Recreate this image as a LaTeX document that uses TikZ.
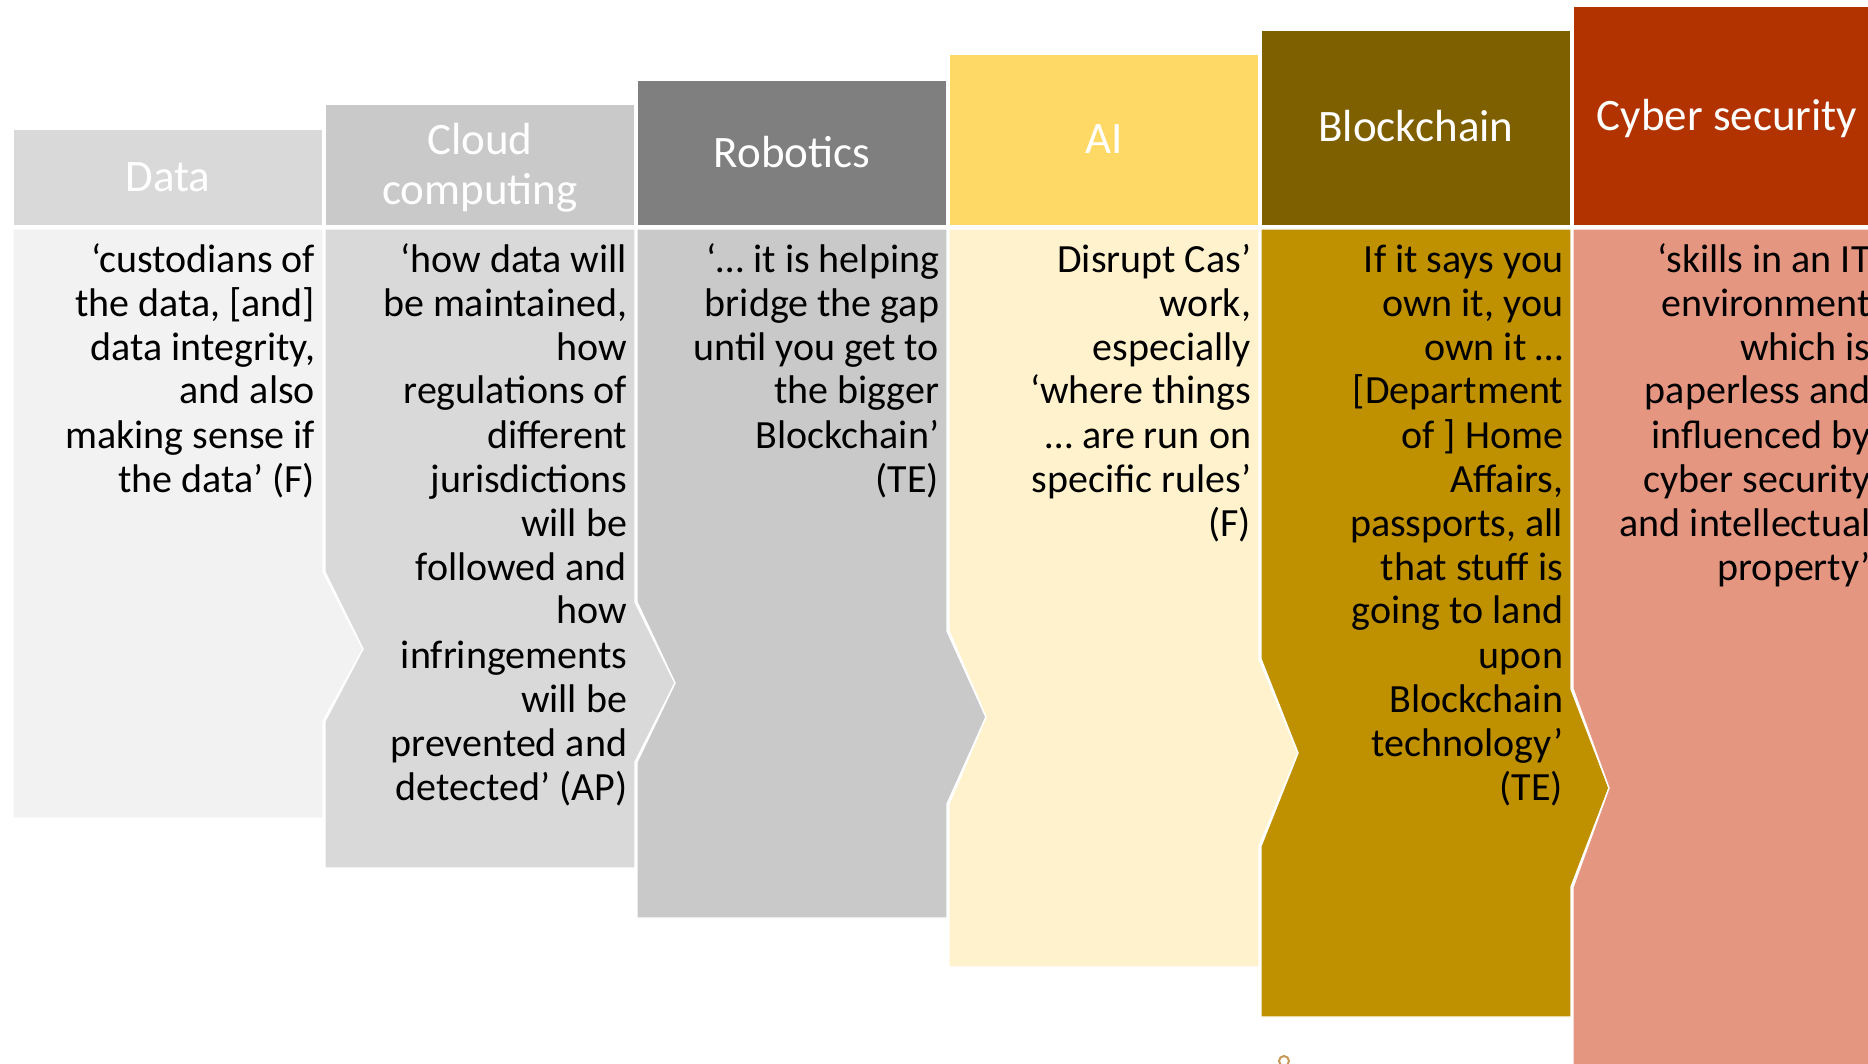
\documentclass[tikz,border=0pt]{standalone}
\usepackage{fontspec}
\setmainfont{Carlito}
\definecolor{dataH}{HTML}{D9D9D9}
\definecolor{dataB}{HTML}{F2F2F2}
\definecolor{cloudH}{HTML}{C9C9C9}
\definecolor{cloudB}{HTML}{D9D9D9}
\definecolor{robH}{HTML}{7F7F7F}
\definecolor{robB}{HTML}{C9C9C9}
\definecolor{aiH}{HTML}{FFD966}
\definecolor{aiB}{HTML}{FFF2CC}
\definecolor{bcH}{HTML}{7F6000}
\definecolor{bcB}{HTML}{BF9000}
\definecolor{cyH}{HTML}{B23300}
\definecolor{cyB}{HTML}{E59681}
\definecolor{dotc}{HTML}{C89A5A}
\tikzset{
  shapebox/.style={draw=white, line width=0.7pt},
  headtext/.style={text=white, font=\fontsize{22.5}{25}\selectfont, align=center, inner sep=0pt},
  bodytext/.style={text=black, anchor=base east, inner sep=0pt}
}
\newcommand{\bodytxt}[1]{\parbox[t]{160pt}{\raggedleft\fontsize{20}{22}\selectfont #1}}
\begin{document}
\begin{tikzpicture}[x=0.5pt,y=-0.5pt]
\useasboundingbox (0,0) rectangle (1868,1064);
\clip (0,0) rectangle (1868,1064);
\fill[white] (0,0) rectangle (1868,1064);
% ---- bodies ----
\path[shapebox, fill=dataB] (13,229) -- (323,229) -- (323,572) -- (363,649) -- (323,721) -- (323,818) -- (13,818) -- cycle;
\path[shapebox, fill=cloudB] (325,229) -- (635,229) -- (635,602) -- (675,683) -- (635,762) -- (635,868) -- (325,868) -- (325,721) -- (363,649) -- (325,572) -- cycle;
\path[shapebox, fill=robB] (637,229) -- (947,229) -- (947,631) -- (986,717) -- (947,804) -- (947,918) -- (637,918) -- (637,762) -- (675,683) -- (637,602) -- cycle;
\path[shapebox, fill=aiB] (949,229) -- (1259,229) -- (1259,659) -- (1298,753) -- (1259,846) -- (1259,967) -- (949,967) -- (949,804) -- (986,717) -- (949,631) -- cycle;
\path[shapebox, fill=bcB] (1261,229) -- (1571,229) -- (1571,689) -- (1609,788) -- (1571,887) -- (1571,1017) -- (1261,1017) -- (1261,846) -- (1298,753) -- (1261,659) -- cycle;
\path[shapebox, fill=cyB] (1573,229) -- (1900,229) -- (1900,1080) -- (1573,1080) -- (1573,887) -- (1609,788) -- (1573,689) -- cycle;
% ---- headers ----
\path[shapebox, fill=dataH] (13,129) rectangle (323,226);
\path[shapebox, fill=cloudH] (325,104) rectangle (635,226);
\path[shapebox, fill=robH] (637,80) rectangle (947,226);
\path[shapebox, fill=aiH] (949,54) rectangle (1259,226);
\path[shapebox, fill=bcH] (1261,30) rectangle (1571,226);
\path[shapebox, fill=cyH] (1573,6) rectangle (1900,226);
% ---- header texts ----
\node[headtext] (hdata) at (168,177.5) {Data};
\node[headtext] (hcloud) at (480,167.5) {Cloud\\computing};
\node[headtext] (hrob) at (792,152) {Robotics};
\node[headtext] (hai) at (1104,139) {AI};
\node[headtext] (hbc) at (1416,126) {Blockchain};
\node[headtext] (hcy) at (1727,118.5) {Cyber security};
% ---- body texts ----
\node[bodytext] (tdata) at (315.5,272) {\bodytxt{‘custodians of\\the data, {[}and{]}\\data integrity,\\and also\\making sense if\\the data’ (F)}};
\node[bodytext] (tcloud) at (627.5,272) {\bodytxt{‘how data will\\be maintained,\\how\\regulations of\\different\\jurisdictions\\will be\\followed and\\how\\infringements\\will be\\prevented and\\detected’ (AP)}};
\node[bodytext] (trob) at (939.5,272) {\bodytxt{‘… it is helping\\bridge the gap\\until you get to\\the bigger\\Blockchain’\\(TE)}};
\node[bodytext] (tai) at (1251.5,272) {\bodytxt{Disrupt Cas’\\work,\\especially\\‘where things\\… are run on\\specific rules’\\(F)}};
\node[bodytext] (tbc) at (1563.5,272) {\bodytxt{If it says you\\own it, you\\own it …\\{[}Department\\of {]} Home\\Affairs,\\passports, all\\that stuff is\\going to land\\upon\\Blockchain\\technology’\\(TE)}};
\node[bodytext] (tcy) at (1871,272) {\bodytxt{‘skills in an IT\\environment\\which is\\paperless and\\influenced by\\cyber security\\and intellectual\\property’}};
% ---- stray mark ----
\node[circle, draw=dotc, line width=1pt, minimum size=5pt, inner sep=0pt] (mark) at (1284,1061) {};
\end{tikzpicture}
\end{document}
